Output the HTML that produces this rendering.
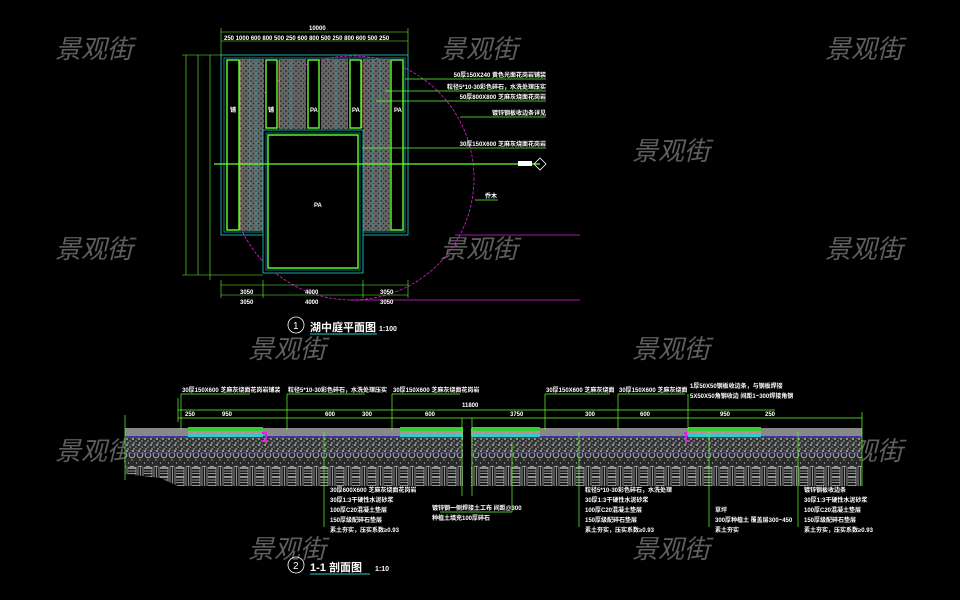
<!DOCTYPE html>
<html><head><meta charset="utf-8"><style>
html,body{margin:0;padding:0;background:#000;width:960px;height:600px;overflow:hidden}
svg{display:block}
text{font-family:"Liberation Sans","Noto Sans CJK SC",sans-serif}
.t{fill:#fff;font-size:6px;font-weight:bold}
.wm{fill:#5e5e5e;font-size:26px;font-style:italic;font-family:"Noto Sans CJK SC",sans-serif}
</style></head><body>
<svg width="960" height="600" viewBox="0 0 960 600" xmlns="http://www.w3.org/2000/svg">
<defs>
<pattern id="grav" width="6" height="6" patternUnits="userSpaceOnUse">
<rect width="6" height="6" fill="#333"/><circle cx="1" cy="1" r="0.9" fill="#ccc"/><circle cx="4" cy="3" r="0.8" fill="#aaa"/><circle cx="2" cy="5" r="0.7" fill="#ddd"/><circle cx="5" cy="0.5" r="0.5" fill="#999"/>
</pattern>
<pattern id="plangrav" width="5" height="5" patternUnits="userSpaceOnUse">
<rect width="5" height="5" fill="#666"/><circle cx="1" cy="1" r="0.8" fill="#111"/><circle cx="3.5" cy="3.5" r="0.7" fill="#222"/>
</pattern>
<pattern id="circ" width="8" height="14" patternUnits="userSpaceOnUse">
<rect width="8" height="14" fill="#2a2a2a"/><circle cx="4" cy="7" r="2.8" fill="none" stroke="#bbb" stroke-width="0.9"/><circle cx="0" cy="1" r="1" fill="#999"/><circle cx="4" cy="12" r="0.7" fill="#aaa"/>
</pattern>
<pattern id="brick" width="16" height="9" patternUnits="userSpaceOnUse">
<rect width="16" height="9" fill="#1a1a1a"/><path d="M0 0.5H8M0 3H8M0 5.5H8M8 0V9M10 0V9M12.5 0V9M15 0V9M0 8.5H8" stroke="#bbb" stroke-width="0.7" fill="none"/>
</pattern>
</defs>

<g class="wm">
<text x="55" y="58">景观街</text><text x="440" y="58">景观街</text><text x="825" y="58">景观街</text>
<text x="255" y="160">景观街</text><text x="632" y="160">景观街</text>
<text x="55" y="258">景观街</text><text x="440" y="258">景观街</text><text x="825" y="258">景观街</text>
<text x="248" y="358">景观街</text><text x="632" y="358">景观街</text>
<text x="55" y="460">景观街</text><text x="440" y="460">景观街</text><text x="825" y="460">景观街</text>
<text x="248" y="558">景观街</text><text x="632" y="558">景观街</text>
</g>

<g>
<circle cx="352" cy="178" r="122" fill="none" stroke="#e020e0" stroke-width="0.8" stroke-dasharray="3,1.5"/>
<line x1="455" y1="235" x2="580" y2="235" stroke="#e020e0" stroke-width="0.8"/>
<line x1="350" y1="300" x2="580" y2="300" stroke="#e020e0" stroke-width="0.8"/>
<rect x="221" y="55" width="187" height="180" fill="none" stroke="#2cc" stroke-width="0.8"/>
<rect x="224" y="58" width="181" height="174" fill="none" stroke="#2cc" stroke-width="0.6"/>
<rect x="240" y="59" width="24" height="172" fill="url(#plangrav)"/>
<rect x="279" y="59" width="27" height="70" fill="url(#plangrav)"/>
<rect x="321" y="59" width="27" height="70" fill="url(#plangrav)"/>
<rect x="363" y="59" width="27" height="172" fill="url(#plangrav)"/>
<g stroke="#2cc" stroke-width="0.5">
<line x1="250" y1="59" x2="250" y2="231"/><line x1="256" y1="59" x2="256" y2="231"/>
<line x1="291" y1="59" x2="291" y2="129"/><line x1="336" y1="59" x2="336" y2="129"/>
<line x1="373" y1="59" x2="373" y2="231"/><line x1="380" y1="59" x2="380" y2="231"/>
</g>
<g fill="#000" stroke="#6f3" stroke-width="1.4">
<rect x="227" y="60" width="12" height="170"/>
<rect x="266" y="60" width="11" height="68"/>
<rect x="308" y="60" width="11" height="68"/>
<rect x="350" y="60" width="11" height="68"/>
<rect x="391" y="60" width="12" height="170"/>
</g>
<g stroke="#fc6" stroke-width="0.6"><line x1="279" y1="60" x2="279" y2="128"/><line x1="362" y1="60" x2="362" y2="128"/><line x1="240" y1="60" x2="240" y2="230"/></g>
<rect x="263" y="130" width="100" height="143" fill="#000" stroke="#2cc" stroke-width="0.8"/>
<rect x="266" y="133" width="94" height="137" fill="none" stroke="#2cc" stroke-width="0.5"/>
<rect x="268" y="135" width="90" height="133" fill="none" stroke="#6f3" stroke-width="1.4"/>
<g class="t" font-size="5"><text x="230" y="112">铺</text><text x="268" y="112">铺</text><text x="310" y="112">PA</text><text x="352" y="112">PA</text><text x="394" y="112">PA</text><text x="314" y="207">PA</text></g>
<line x1="214" y1="164" x2="540" y2="164" stroke="#6f3" stroke-width="1.2"/>
<rect x="518" y="161" width="14" height="5" fill="#fff"/>
<path d="M540 158 L546 164 L540 170 L534 164Z" fill="none" stroke="#fff" stroke-width="0.8"/>
<g stroke="#6f3" stroke-width="0.7">
<line x1="405" y1="79" x2="546" y2="79"/><line x1="385" y1="91" x2="546" y2="91"/>
<line x1="376" y1="101" x2="546" y2="101"/><line x1="460" y1="117" x2="546" y2="117"/>
<line x1="362" y1="148" x2="546" y2="148"/><line x1="475" y1="200" x2="498" y2="200"/>
</g>
<g class="t" text-anchor="end">
<text x="546" y="77">50厚150X240 黄色光面花岗岩铺装</text>
<text x="546" y="89">粒径5*10-30彩色碎石，水洗处理压实</text>
<text x="546" y="99">50厚800X800 芝麻灰烧面花岗岩</text>
<text x="546" y="115">镀锌钢板收边条详见</text>
<text x="546" y="146">30厚150X600 芝麻灰烧面花岗岩</text>
<text x="497" y="198">乔木</text>
</g>
<g stroke="#6f3" stroke-width="0.6" fill="none">
<line x1="221" y1="32" x2="408" y2="32"/><line x1="221" y1="41" x2="408" y2="41"/>
<line x1="221" y1="28" x2="221" y2="55"/><line x1="408" y1="28" x2="408" y2="55"/>
<line x1="186" y1="55" x2="186" y2="275"/><line x1="198" y1="55" x2="198" y2="275"/><line x1="210" y1="55" x2="210" y2="280"/>
<line x1="182" y1="55" x2="221" y2="55"/><line x1="182" y1="275" x2="263" y2="275"/>
<line x1="221" y1="285" x2="408" y2="285"/><line x1="221" y1="295" x2="408" y2="295"/>
<line x1="221" y1="280" x2="221" y2="298"/><line x1="408" y1="280" x2="408" y2="298"/>
<line x1="263" y1="280" x2="263" y2="298"/><line x1="363" y1="280" x2="363" y2="298"/>
</g>
<g class="t" font-size="5">
<text x="309" y="30">10000</text>
<text x="224" y="40">250 1000 600 800 500 250 600 800 500 250 800 600 500 250</text>
<text x="240" y="294">3050</text><text x="305" y="294">4000</text><text x="380" y="294">3050</text>
<text x="240" y="304">3050</text><text x="305" y="304">4000</text><text x="380" y="304">3050</text>
</g>
<circle cx="296" cy="325" r="8" fill="none" stroke="#fff" stroke-width="0.8"/>
<text x="293" y="329" fill="#fff" font-size="10">1</text>
<text x="310" y="331" fill="#fff" font-size="11" font-weight="bold">湖中庭平面图</text>
<line x1="310" y1="334" x2="377" y2="334" stroke="#2cc" stroke-width="1"/>
<text x="379" y="331" fill="#fff" font-size="7" font-weight="bold">1:100</text>
</g>

<g>
<rect x="125" y="428" width="737" height="8" fill="#888"/>
<rect x="125" y="436" width="737" height="17" fill="url(#grav)"/>
<rect x="125" y="453" width="737" height="14" fill="url(#circ)"/>
<polygon points="125,467 862,467 862,486 178,486 160,478 125,474" fill="url(#brick)"/>
<line x1="125" y1="437" x2="862" y2="437" stroke="#33f" stroke-width="1"/>
<line x1="125" y1="453" x2="862" y2="453" stroke="#55f" stroke-width="0.8" stroke-dasharray="2,1"/>
<g>
<rect x="188" y="427" width="75" height="4" fill="#3c3"/><rect x="188" y="431" width="75" height="3" fill="#c88"/><rect x="188" y="434" width="75" height="3" fill="#3cc"/>
<rect x="400" y="427" width="63" height="4" fill="#3c3"/><rect x="400" y="431" width="63" height="3" fill="#c88"/><rect x="400" y="434" width="63" height="3" fill="#3cc"/>
<rect x="472" y="427" width="68" height="4" fill="#3c3"/><rect x="472" y="431" width="68" height="3" fill="#c88"/><rect x="472" y="434" width="68" height="3" fill="#3cc"/>
<rect x="688" y="427" width="73" height="4" fill="#3c3"/><rect x="688" y="431" width="73" height="3" fill="#c88"/><rect x="688" y="434" width="73" height="3" fill="#3cc"/>
</g>
<path d="M262 433 h4 v8 h-4" fill="none" stroke="#e020e0" stroke-width="2"/>
<path d="M684 433 h2 v8 h4" fill="none" stroke="#e020e0" stroke-width="2"/>
<rect x="463" y="418" width="8" height="78" fill="#000"/>
<g stroke="#6f3" stroke-width="0.7" fill="none">
<line x1="125" y1="415" x2="125" y2="480"/><line x1="862" y1="412" x2="862" y2="486"/>
<line x1="462" y1="418" x2="462" y2="496"/><line x1="472" y1="418" x2="472" y2="496"/>
<line x1="178" y1="410" x2="775" y2="410"/>
<line x1="178" y1="418" x2="862" y2="418"/>
<line x1="178" y1="398" x2="178" y2="422"/>
<line x1="181" y1="394" x2="181" y2="430"/><line x1="287" y1="394" x2="287" y2="430"/>
<line x1="392" y1="394" x2="392" y2="430"/><line x1="545" y1="394" x2="545" y2="430"/>
<line x1="618" y1="394" x2="618" y2="430"/><line x1="688" y1="394" x2="688" y2="430"/>
<line x1="181" y1="394" x2="250" y2="394"/><line x1="287" y1="394" x2="365" y2="394"/>
<line x1="392" y1="394" x2="460" y2="394"/><line x1="545" y1="394" x2="610" y2="394"/>
<line x1="618" y1="394" x2="685" y2="394"/>
<line x1="324" y1="432" x2="324" y2="527"/><line x1="579" y1="432" x2="579" y2="527"/>
<line x1="709" y1="432" x2="709" y2="527"/><line x1="798" y1="432" x2="798" y2="527"/>
<line x1="512" y1="444" x2="512" y2="512"/><line x1="440" y1="512" x2="512" y2="512"/>
</g>
<g class="t">
<text x="182" y="392">30厚150X600 芝麻灰烧面花岗岩铺装</text>
<text x="288" y="392">粒径5*10-30彩色碎石，水洗处理压实</text>
<text x="393" y="392">30厚150X600 芝麻灰烧面花岗岩</text>
<text x="546" y="392">30厚150X600 芝麻灰烧面</text>
<text x="619" y="392">30厚150X600 芝麻灰烧面</text>
<text x="690" y="388">1厚50X50钢板收边条，与钢板焊接</text>
<text x="690" y="398">5X50X50角钢收边 间距1~300焊接角钢</text>
<text x="462" y="407">11800</text>
<text x="330" y="492">30厚600X600 芝麻灰烧面花岗岩</text>
<text x="330" y="502">30厚1:3干硬性水泥砂浆</text>
<text x="330" y="512">100厚C20混凝土垫层</text>
<text x="330" y="522">150厚级配碎石垫层</text>
<text x="330" y="532">素土夯实，压实系数≥0.93</text>
<text x="432" y="510">镀锌钢一侧焊接土工布 间距@300</text>
<text x="432" y="520">种植土填充100厚碎石</text>
<text x="585" y="492">粒径5*10-30彩色碎石，水洗处理</text>
<text x="585" y="502">30厚1:3干硬性水泥砂浆</text>
<text x="585" y="512">100厚C20混凝土垫层</text>
<text x="585" y="522">150厚级配碎石垫层</text>
<text x="585" y="532">素土夯实，压实系数≥0.93</text>
<text x="715" y="512">草坪</text>
<text x="715" y="522">300厚种植土 覆盖层300~450</text>
<text x="715" y="532">素土夯实</text>
<text x="804" y="492">镀锌钢板收边条</text>
<text x="804" y="502">30厚1:3干硬性水泥砂浆</text>
<text x="804" y="512">100厚C20混凝土垫层</text>
<text x="804" y="522">150厚级配碎石垫层</text>
<text x="804" y="532">素土夯实，压实系数≥0.93</text>
</g>
<g class="t" font-size="5">
<text x="185" y="416">250</text><text x="222" y="416">950</text><text x="325" y="416">600</text><text x="362" y="416">300</text><text x="425" y="416">600</text><text x="510" y="416">3750</text><text x="585" y="416">300</text><text x="640" y="416">600</text><text x="720" y="416">950</text><text x="765" y="416">250</text>
</g>
<circle cx="296" cy="565" r="8" fill="none" stroke="#fff" stroke-width="0.8"/>
<text x="293" y="569" fill="#fff" font-size="10">2</text>
<text x="310" y="571" fill="#fff" font-size="11" font-weight="bold">1-1  剖面图</text>
<line x1="310" y1="574" x2="370" y2="574" stroke="#2cc" stroke-width="1"/>
<text x="375" y="571" fill="#fff" font-size="7" font-weight="bold">1:10</text>
</g>
</svg>
</body></html>
